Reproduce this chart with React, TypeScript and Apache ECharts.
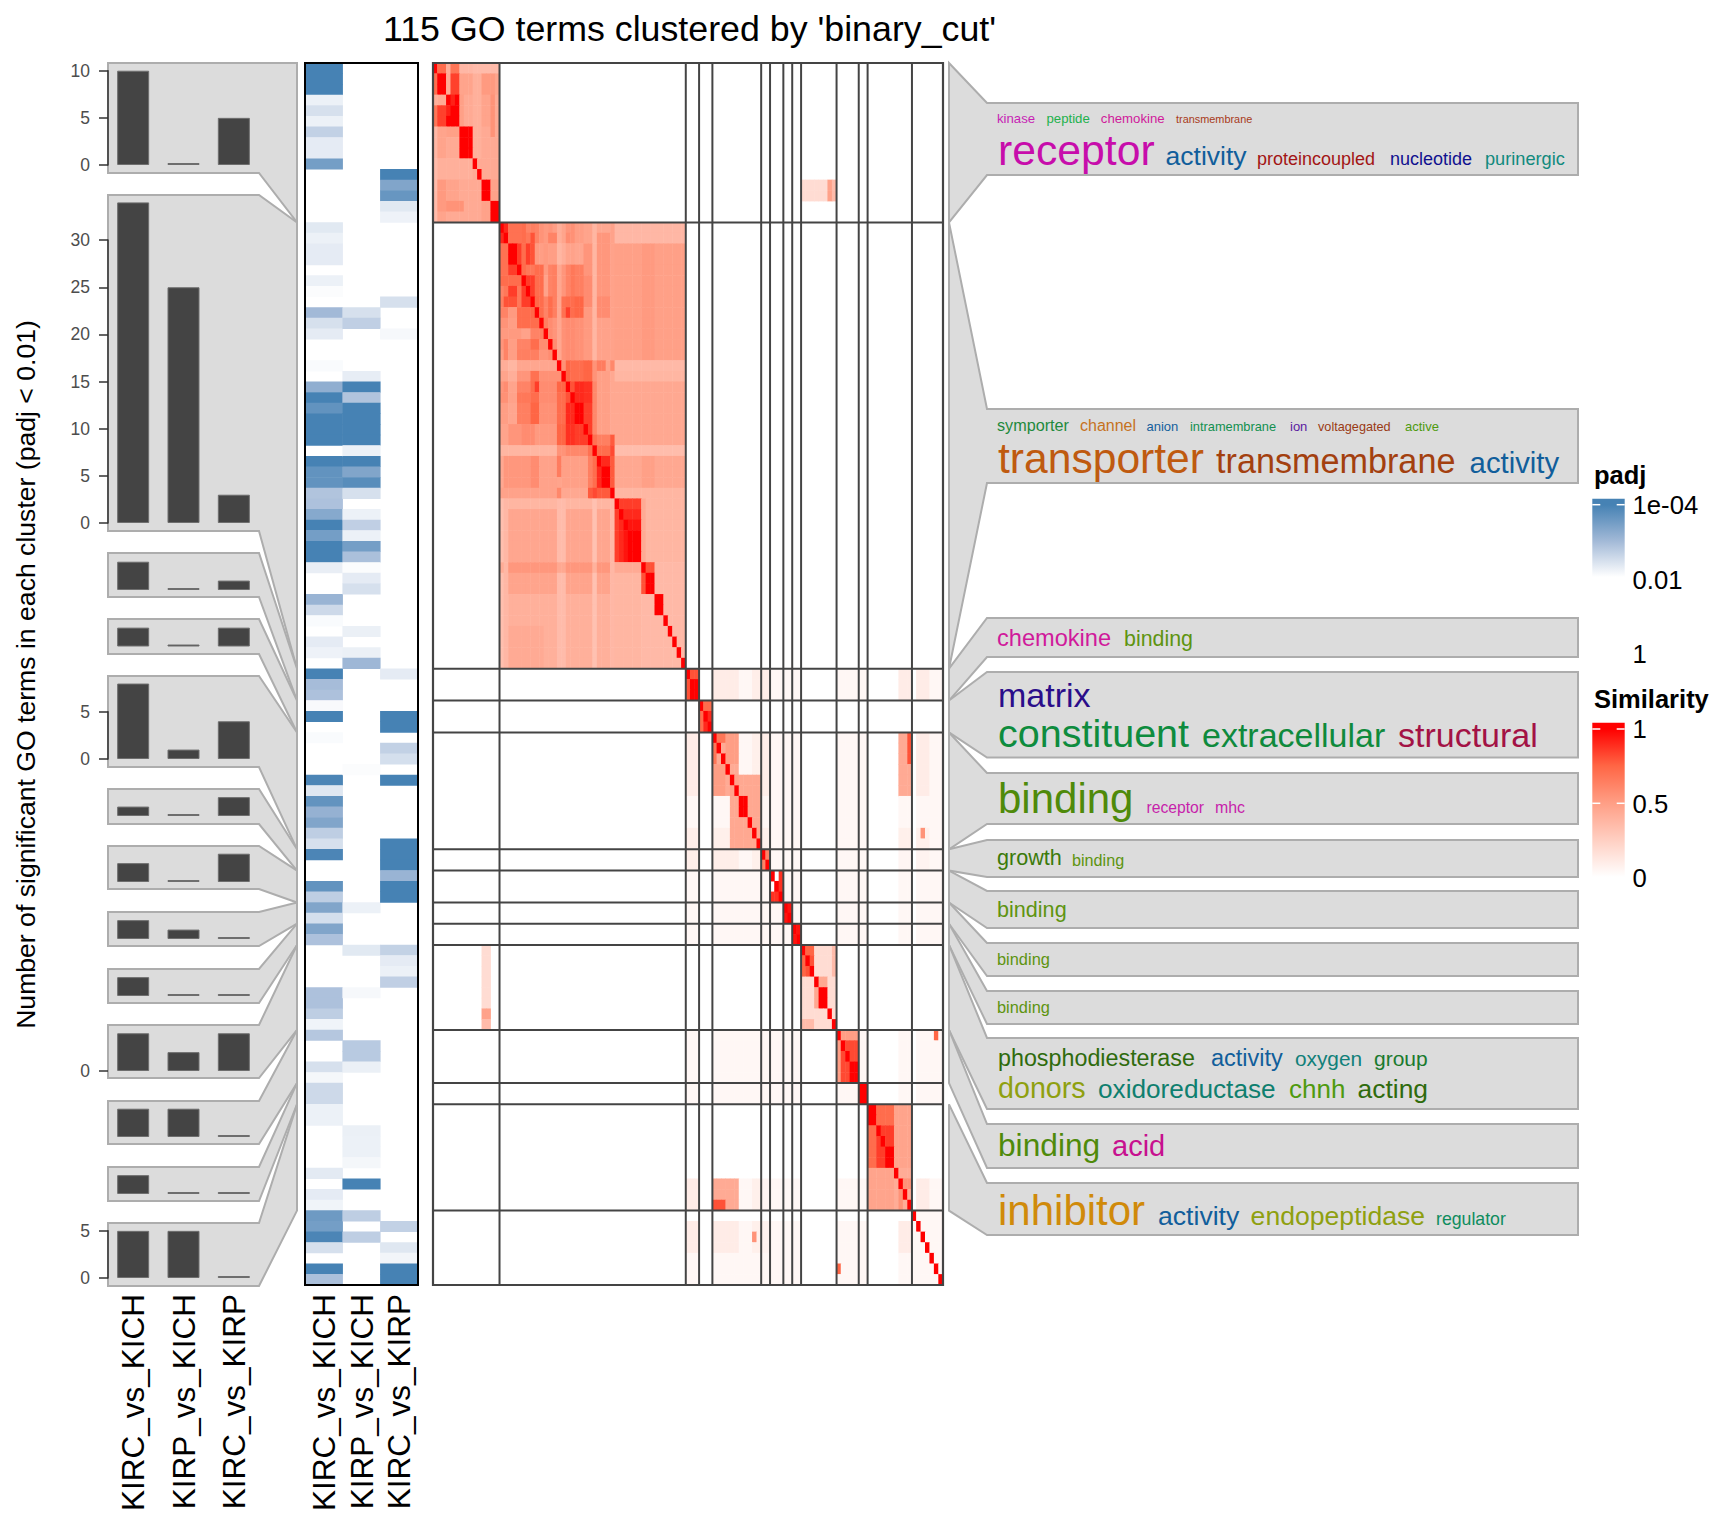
import React, { useEffect, useRef } from "react";
import * as echarts from "echarts";

const FONT = '"Liberation Sans", Arial, sans-serif';

// ---- data ----
const comparisons = ["KIRC_vs_KICH", "KIRP_vs_KICH", "KIRC_vs_KIRP"];
const clusterSizes = [15, 42, 3, 3, 11, 2, 3, 2, 2, 8, 5, 2, 10, 7];

const barKircKich = [10, 34, 3, 2, 8, 1, 2, 2, 2, 4, 3, 2, 5];
const barKirpKich = [0, 25, 0, 0, 1, 0, 0, 1, 0, 2, 3, 0, 5];
const barKircKirp = [5, 3, 1, 2, 4, 2, 3, 0, 0, 4, 0, 0, 0];
// highest labelled tick per panel (null: no axis drawn)
const axisTopTick = [10, 30, null, null, 5, null, null, null, null, 0, null, null, 5];

// -log10(padj); 0 = not significant
const logPadjKircKich = [
  4, 4, 4, 2.2, 2.44, 2.2, 2.66, 2.28, 2.28, 3.5,
  0, 0, 0, 0, 0, 2.32, 2.2, 2.28, 2.28, 0,
  2.2, 2.04, 0, 3, 2.44, 2.28, 0, 0, 2.06, 0,
  3.2, 4, 3.7, 4, 4, 4, 0, 4, 3.7, 3.7,
  2.84, 2.88, 3.3, 4, 3.5, 4, 4, 2.24, 0, 0,
  3.1, 2.54, 2.06, 0, 2.28, 2.18, 0, 4, 2.96, 2.88,
  2.08, 4, 0, 2.06, 0, 0, 0, 3.94, 2.34, 3.7,
  3.14, 3.36, 2.7, 2.44, 3.94, 0, 0, 3.7, 2.7, 3.36,
  2.46, 3.36, 2.88, 0, 0, 0, 0, 2.88, 2.88, 2.7,
  2.16, 2.8, 0, 0, 2.44, 2.12, 2.54, 2.54, 2.2, 2.2,
  0, 0, 0, 0, 2.3, 0, 2.28, 2.16, 3.56, 3.5,
  3.94, 2.44, 0, 4, 2.9,
];
const logPadjKirpKich = [
  0, 0, 0, 0, 0, 0, 0, 0, 0, 0,
  0, 0, 0, 0, 0, 0, 0, 0, 0, 0,
  0, 0, 0, 2.44, 2.68, 0, 0, 0, 0, 2.26,
  4, 2.84, 4, 4, 4, 4, 2.2, 4, 3.36, 3.8,
  2.44, 0, 2.2, 2.68, 2.2, 3.5, 2.9, 2.04, 2.28, 2.44,
  0, 0, 0, 2.22, 0, 2.22, 3.04, 0, 0, 0,
  0, 0, 0, 0, 0, 0, 2.04, 0, 0, 0,
  0, 0, 0, 0, 0, 0, 0, 0, 0, 2.2,
  0, 0, 0, 2.32, 0, 0, 0, 2.1, 0, 0,
  0, 0, 2.76, 2.76, 2.22, 0, 0, 0, 0, 0,
  2.22, 2.2, 2.2, 2.12, 0, 4, 0, 0, 2.7, 0,
  2.7, 0, 0, 0, 0,
];
const logPadjKircKirp = [
  0, 0, 0, 0, 0, 0, 0, 0, 0, 0,
  4, 3.36, 3.64, 2.32, 2.18, 0, 0, 0, 0, 0,
  0, 0, 2.44, 0, 0, 2.1, 0, 0, 0, 0,
  0, 0, 0, 0, 0, 0, 0, 0, 0, 0,
  0, 0, 0, 0, 0, 0, 0, 0, 0, 0,
  0, 0, 0, 0, 0, 0, 0, 2.28, 0, 0,
  0, 4, 4, 0, 2.66, 2.46, 0, 4, 0, 0,
  0, 0, 0, 4, 4, 4, 3.1, 4, 4, 0,
  0, 0, 0, 2.64, 2.28, 2.2, 2.68, 0, 0, 0,
  0, 0, 0, 0, 0, 0, 0, 0, 0, 0,
  0, 0, 0, 0, 0, 0, 0, 0, 0, 2.66,
  0, 2.34, 2.14, 4, 4,
];

// similarity blocks, term index ranges: [row0, row1, col0, col1, similarity]; mirrored across the diagonal
type Block = [number, number, number, number, number];
const receptorBlocks: Block[] = [
  [0, 14, 0, 14, 0.44], [0, 0, 1, 2, 0.72], [3, 3, 0, 0, 0.42], [0, 0, 4, 5, 0.68], [0, 0, 6, 8, 0.42], [0, 0, 9, 10, 0.4], [0, 0, 14, 14, 0.38],
  [1, 2, 3, 3, 0.44], [1, 2, 4, 5, 0.84], [1, 2, 6, 8, 0.47], [1, 2, 11, 14, 0.52], [1, 2, 1, 2, 1],
  [3, 5, 3, 5, 1], [4, 4, 3, 4, 0.92], [6, 6, 3, 5, 0.49], [6, 8, 6, 8, 1],
  [6, 8, 0, 0, 0.37], [9, 14, 0, 0, 0.35], [9, 10, 1, 8, 0.41], [11, 12, 3, 5, 0.47], [11, 12, 13, 14, 0.48],
  [13, 13, 3, 6, 0.55], [14, 14, 1, 2, 0.47], [11, 12, 11, 12, 1], [13, 14, 13, 14, 1],
];
const transporterBlocks: Block[] = [
  [15, 56, 15, 56, 0.44],
  [41, 41, 15, 40, 0.38], [42, 46, 15, 40, 0.46], [47, 47, 15, 40, 0.53], [48, 49, 15, 40, 0.47], [50, 56, 15, 40, 0.41], [53, 56, 17, 24, 0.44],
  [41, 56, 15, 15, 0.33], [41, 56, 16, 16, 0.37], [41, 56, 28, 29, 0.35], [41, 56, 36, 36, 0.32], [41, 56, 40, 40, 0.37],
  [47, 47, 15, 15, 0.43], [47, 47, 28, 29, 0.45], [47, 47, 36, 36, 0.4],
  [41, 56, 41, 56, 0.36], [47, 47, 41, 46, 0.44], [48, 56, 41, 46, 0.38],
  [41, 46, 41, 46, 0.85], [42, 46, 42, 46, 0.9], [43, 46, 43, 46, 0.95], [44, 46, 44, 46, 1],
  [47, 49, 47, 49, 0.8], [48, 49, 48, 49, 1], [50, 51, 50, 51, 1],
  [15, 40, 15, 40, 0.52],
  [16, 16, 15, 15, 0.9], [17, 19, 15, 16, 0.7], [17, 18, 17, 18, 1], [19, 19, 17, 18, 0.85],
  [20, 20, 15, 19, 0.72], [21, 21, 15, 15, 0.62], [21, 21, 16, 16, 0.67], [21, 21, 17, 18, 0.85], [21, 21, 19, 19, 0.67], [21, 21, 20, 20, 0.85],
  [22, 22, 15, 15, 0.64], [22, 22, 16, 18, 0.8], [22, 22, 19, 19, 0.67], [22, 22, 20, 21, 0.85],
  [23, 23, 15, 16, 0.62], [23, 23, 17, 18, 0.52], [23, 23, 19, 21, 0.72], [23, 23, 22, 22, 0.74],
  [24, 24, 15, 16, 0.55], [24, 24, 17, 18, 0.5], [24, 24, 19, 23, 0.72],
  [25, 25, 15, 19, 0.52], [25, 25, 20, 21, 0.48], [25, 25, 22, 23, 0.62], [25, 25, 24, 24, 0.64],
  [26, 26, 15, 15, 0.54], [26, 26, 16, 16, 0.62], [26, 26, 17, 18, 0.5], [26, 26, 19, 21, 0.62], [26, 26, 22, 23, 0.72], [26, 26, 24, 25, 0.58],
  [27, 27, 15, 15, 0.5], [27, 27, 16, 16, 0.62], [27, 27, 17, 18, 0.5], [27, 27, 19, 23, 0.64], [27, 27, 24, 25, 0.54], [27, 27, 26, 26, 0.58],
  [28, 28, 15, 16, 0.42], [28, 28, 17, 18, 0.38], [28, 28, 19, 27, 0.46],
  [29, 29, 15, 16, 0.47], [29, 29, 17, 18, 0.42], [29, 29, 19, 21, 0.54], [29, 29, 22, 23, 0.7], [29, 29, 24, 28, 0.56],
  [30, 30, 15, 15, 0.54], [30, 30, 16, 16, 0.58], [30, 30, 17, 18, 0.47], [30, 30, 19, 21, 0.62], [30, 30, 22, 22, 0.72], [30, 30, 23, 23, 0.85], [30, 30, 24, 27, 0.58], [30, 30, 28, 29, 0.75],
  [31, 31, 15, 16, 0.56], [31, 31, 17, 18, 0.48], [31, 31, 19, 21, 0.67], [31, 31, 22, 23, 0.72], [31, 31, 24, 27, 0.58], [31, 31, 28, 29, 0.72], [31, 31, 30, 30, 0.8],
  [32, 33, 15, 16, 0.5], [32, 33, 17, 18, 0.46], [32, 33, 19, 21, 0.64], [32, 33, 22, 23, 0.75], [32, 33, 24, 27, 0.56], [32, 33, 28, 29, 0.72], [32, 33, 30, 31, 0.9], [32, 33, 32, 33, 1],
  [34, 35, 15, 16, 0.47], [34, 35, 17, 19, 0.54], [34, 35, 20, 22, 0.58], [34, 35, 23, 27, 0.52], [34, 35, 28, 29, 0.75], [34, 35, 30, 31, 0.88], [34, 35, 32, 33, 0.85], [35, 35, 34, 34, 0.85],
  [36, 36, 15, 27, 0.38], [36, 36, 28, 29, 0.55], [36, 36, 30, 34, 0.6], [36, 36, 35, 35, 0.7],
  [37, 39, 15, 15, 0.45], [37, 39, 16, 21, 0.53], [37, 39, 22, 23, 0.58], [37, 39, 24, 27, 0.48], [37, 38, 28, 28, 0.65], [39, 39, 28, 28, 0.47], [37, 39, 29, 34, 0.49], [37, 39, 35, 35, 0.64], [37, 39, 36, 36, 0.72],
  [38, 38, 37, 37, 0.9], [39, 39, 37, 37, 0.9], [38, 39, 38, 39, 1],
  [40, 40, 15, 27, 0.48], [40, 40, 28, 28, 0.6], [40, 40, 29, 34, 0.45], [40, 40, 35, 35, 0.78], [40, 40, 36, 36, 0.82], [40, 40, 37, 39, 0.78],
];
// read from the upper right of the transporter block only; not mirrored
const transporterUpperRight: Block[] = [
  [15, 16, 41, 56, 0.37], [17, 27, 41, 56, 0.49], [28, 28, 41, 56, 0.36], [29, 29, 41, 56, 0.38], [30, 35, 41, 56, 0.45],
  [36, 36, 41, 56, 0.34], [37, 39, 41, 56, 0.45], [40, 40, 41, 56, 0.38],
  [17, 27, 47, 49, 0.52], [37, 39, 47, 49, 0.49],
];
const otherBlocks: Block[] = [
  [63, 82, 57, 59, 0.04], [91, 97, 57, 59, 0.04], [105, 114, 57, 59, 0.04], [63, 82, 63, 82, 0.04],
  [91, 97, 63, 82, 0.04], [105, 114, 63, 82, 0.04], [91, 97, 91, 97, 0.04], [105, 114, 91, 97, 0.04], [105, 114, 105, 114, 0.04],
  [108, 108, 57, 107, 0],
  [63, 68, 57, 59, 0.1], [72, 75, 57, 59, 0.09], [105, 107, 57, 59, 0.1], [109, 111, 57, 59, 0.1],
  [72, 73, 63, 68, 0.08], [74, 75, 63, 68, 0.09], [74, 75, 72, 73, 0.08],
  [109, 111, 63, 68, 0.1], [109, 111, 72, 73, 0.08], [109, 111, 74, 75, 0.06], [105, 107, 74, 75, 0.05], [105, 107, 72, 73, 0.08],
  [105, 107, 63, 68, 0.44], [107, 107, 63, 65, 0.8], [109, 111, 105, 107, 0.1], [110, 110, 72, 72, 0.55],
  [57, 59, 57, 59, 0.8], [58, 59, 58, 59, 1], [60, 62, 60, 62, 0.72], [61, 62, 61, 62, 0.9],
  [63, 68, 63, 68, 0.44], [64, 65, 63, 63, 0.68], [66, 68, 63, 65, 0.5],
  [69, 73, 67, 68, 0.45], [69, 73, 69, 73, 0.45], [67, 68, 67, 68, 0.48], [69, 70, 69, 70, 1],
  [74, 75, 74, 75, 0.62],
  [76, 78, 76, 78, 0.85], [77, 77, 76, 76, 0], [78, 78, 76, 77, 0.88],
  [79, 80, 79, 80, 0.95], [81, 82, 81, 82, 0.95],
  [83, 90, 83, 90, 0.18], [84, 85, 83, 83, 0.75], [85, 85, 84, 84, 0.8], [87, 88, 86, 86, 0.45], [87, 88, 87, 88, 1], [90, 90, 83, 85, 0.35],
  [83, 88, 11, 12, 0.18], [89, 89, 11, 12, 0.48], [90, 90, 11, 12, 0.35],
  [91, 95, 91, 95, 0.82], [92, 95, 91, 91, 0.5], [94, 95, 94, 95, 1], [113, 113, 91, 91, 0.75],
  [96, 97, 96, 97, 1],
  [98, 103, 98, 103, 0.72], [98, 99, 98, 99, 1], [100, 103, 100, 103, 0.85], [102, 103, 102, 103, 1],
  [104, 107, 98, 103, 0.47], [104, 107, 104, 107, 0.43], [106, 107, 105, 105, 0.55],
];

// word clouds: [word, x, baseline, font px, colour]
type Word = [string, number, number, number, string];
const cloudWords: Word[] = [
  ["kinase", 997, 123, 13.2, "#C71FB5"], ["peptide", 1046.5, 123, 13.2, "#22B14C"], ["chemokine", 1100.8, 123, 13.2, "#D01A9B"], ["transmembrane", 1176, 123, 10.9, "#A83A1A"],
  ["receptor", 998, 165, 42.7, "#C70DAB"], ["activity", 1165.6, 165, 26.5, "#115E9B"], ["proteincoupled", 1257, 165, 18, "#A31515"], ["nucleotide", 1390, 165, 18, "#10108F"], ["purinergic", 1485, 165, 18.2, "#118A7E"],
  ["symporter", 997, 431, 16.2, "#1F8A3C"], ["channel", 1080, 431, 16, "#C6721E"], ["anion", 1146.5, 431, 13, "#14609C"], ["intramembrane", 1190, 431, 12.8, "#12904F"], ["ion", 1290, 431, 13, "#5A1AA0"], ["voltagegated", 1318, 431, 12.7, "#9A3A14"], ["active", 1405, 431, 13, "#4E9A0F"],
  ["transporter", 998, 473, 42.6, "#BF5A10"], ["transmembrane", 1216, 472.5, 34.2, "#A3400F"], ["activity", 1469.6, 472.5, 29.3, "#115E9B"],
  ["chemokine", 997, 646, 23.6, "#D01A9B"], ["binding", 1124, 646, 21.4, "#5E9410"],
  ["matrix", 998, 706.6, 34, "#2A0D8A"], ["constituent", 998, 747, 39.5, "#0E8C3E"], ["extracellular", 1202, 747, 34, "#0F8A3C"], ["structural", 1398, 747, 34, "#A31245"],
  ["binding", 998, 813.5, 42, "#4F8A0A"], ["receptor", 1146.5, 813.3, 15.7, "#C71FAB"], ["mhc", 1215, 813.3, 15.9, "#C71FAB"],
  ["growth", 997, 865, 21.6, "#3B7A0A"], ["binding", 1072, 865.4, 16.2, "#5E9410"],
  ["binding", 997, 916.7, 21.6, "#5E9410"], ["binding", 997, 965, 16.4, "#5E9410"], ["binding", 997, 1012.7, 16.4, "#5E9410"],
  ["phosphodiesterase", 998, 1066, 23.3, "#2F6B0D"], ["activity", 1211, 1066, 23.5, "#115E9B"], ["oxygen", 1295, 1066, 20.8, "#11807A"], ["group", 1374, 1066, 21, "#1A7A2E"],
  ["donors", 998, 1097.7, 28.7, "#8FA010"], ["oxidoreductase", 1098, 1097.7, 26.2, "#0F7F6F"], ["chnh", 1289, 1097.7, 26, "#4F9A0F"], ["acting", 1357.6, 1097.7, 26.4, "#2F6B0D"],
  ["binding", 998, 1156, 31.7, "#4F8A0A"], ["acid", 1112, 1156, 29, "#C7108F"],
  ["inhibitor", 998, 1225, 42, "#D08A0A"], ["activity", 1158, 1225.5, 26.6, "#115E9B"], ["endopeptidase", 1250.6, 1225.5, 26.6, "#8FA010"], ["regulator", 1436, 1225.5, 17.7, "#0E8C5E"],
];

// ---- layout ----
const TERMS = 115;
const MAIN = { left: 433, top: 63, width: 510, height: 1222 };
const PADJ = { left: 305, top: 63, width: 113, height: 1222 };
const rowH = MAIN.height / TERMS;
const colW = MAIN.width / TERMS;
const Y_SCALE = 9.43;
const zeroY = [165, 523, 590, 646.5, 759, 816, 882, 939, 996, 1071, 1137, 1194, 1278];
const leftBoxTop = [63, 195, 553, 619, 676, 789, 846, 912, 969, 1025, 1101, 1167, 1223];
const leftBoxBottom = [173, 531, 597, 654, 767, 824, 889, 946, 1003, 1078, 1144, 1201, 1286];
const rightClusters = [0, 1, 2, 3, 4, 5, 6, 7, 8, 9, 10, 12];
const rightBoxTop = [103, 409, 618, 672, 773, 840, 891, 943, 991, 1038, 1124, 1183];
const rightBoxBottom = [175, 483, 657, 757.5, 824, 877, 928, 976, 1024, 1109, 1168, 1235];
const BOX_FILL = "#DCDCDC";
const BOX_STROKE = "#ADADAD";
const LINE_DARK = "#444444";

function buildSimilarity(): number[][] {
  const m: number[][] = Array.from({ length: TERMS }, () => new Array(TERMS).fill(0));
  for (const [r0, r1, c0, c1, v] of [...receptorBlocks, ...transporterBlocks, ...otherBlocks]) {
    for (let r = r0; r <= r1; r++) for (let c = c0; c <= c1; c++) { m[r][c] = v; m[c][r] = v; }
  }
  for (const [r0, r1, c0, c1, v] of transporterUpperRight) {
    for (let r = r0; r <= r1; r++) for (let c = c0; c <= c1; c++) m[r][c] = v;
  }
  for (let i = 0; i < TERMS; i++) m[i][i] = 1;
  return m;
}

const cum: number[] = [0];
clusterSizes.forEach((s, i) => cum.push(cum[i] + s));
const anchorY = (termIndex: number) => MAIN.top + termIndex * rowH;

function word(text: string, x: number, baseline: number, size: number, fill: string, extra: any = {}) {
  return {
    type: "text", x, y: baseline - 0.346 * size, z: 10, silent: true,
    style: { text, fontSize: size, fontFamily: FONT, fill, textVerticalAlign: "middle", verticalAlign: "middle", textAlign: "left", align: "left", ...extra },
  };
}

function buildOption() {
  const grids: any[] = [];
  const xAxes: any[] = [];
  const yAxes: any[] = [];
  const series: any[] = [];
  const graphics: any[] = [];

  zeroY.forEach((y0, i) => {
    const vals = [barKircKich[i], barKirpKich[i], barKircKirp[i]];
    const tick = axisTopTick[i];
    const top = tick && tick > 0 ? tick : Math.max(...vals);
    const h = top * Y_SCALE;
    grids.push({ left: 108, width: 151, top: y0 - h, height: h });
    const isLast = i === zeroY.length - 1;
    xAxes.push({
      type: "category", gridIndex: i, data: comparisons, show: isLast,
      axisLine: { show: false }, axisTick: { show: false },
      axisLabel: { show: isLast, rotate: 90, interval: 0, margin: 16, fontSize: 31.5, color: "#000", fontFamily: FONT },
    });
    const axisShown = tick !== null;
    const zeroOnly = tick === 0;
    yAxes.push({
      type: "value", gridIndex: i, min: 0, max: top, interval: 5, show: axisShown, splitLine: { show: false },
      axisLine: { show: axisShown && !zeroOnly, lineStyle: { color: "#333", width: 1.5 } },
      axisTick: { show: axisShown, length: 9, lineStyle: { color: "#333", width: 1.5 }, ...(zeroOnly ? { customValues: [0] } : {}) },
      axisLabel: { show: axisShown, fontSize: 17.5, color: "#4D4D4D", fontFamily: FONT, margin: 18, ...(zeroOnly ? { customValues: [0] } : {}) },
    });
    series.push({
      type: "bar", xAxisIndex: i, yAxisIndex: i, data: vals, barWidth: 32, barMinHeight: 2, clip: false, silent: true, z: 3,
      itemStyle: { color: "#444444", borderColor: "#6E6E6E", borderWidth: 1 },
    });
    const a0 = anchorY(cum[i]);
    const a1 = anchorY(cum[i + 1]);
    graphics.push({
      type: "polygon", z: -1, silent: true,
      shape: { points: [[108, leftBoxTop[i]], [259, leftBoxTop[i]], [297, a0], [297, a1], [259, leftBoxBottom[i]], [108, leftBoxBottom[i]]] },
      style: { fill: BOX_FILL, stroke: BOX_STROKE, lineWidth: 2, lineJoin: "miter" },
    });
  });

  // padj heatmap
  const padjIdx = grids.length;
  grids.push({ ...PADJ });
  const idx = Array.from({ length: TERMS }, (_, i) => String(i));
  xAxes.push({
    type: "category", gridIndex: padjIdx, data: comparisons, position: "bottom",
    axisLine: { show: false }, axisTick: { show: false }, splitLine: { show: false },
    axisLabel: { rotate: 90, interval: 0, margin: 9, fontSize: 31.5, color: "#000", fontFamily: FONT },
  });
  yAxes.push({ type: "category", gridIndex: padjIdx, data: idx, inverse: true, show: false });
  const padjData: any[] = [];
  [logPadjKircKich, logPadjKirpKich, logPadjKircKirp].forEach((col, c) => {
    col.forEach((v, r) => { if (v > 2) padjData.push([c, r, v]); });
  });
  series.push({ type: "heatmap", xAxisIndex: padjIdx, yAxisIndex: padjIdx, data: padjData, silent: true, progressive: 0, z: 3 });

  // similarity heatmap
  const simIdx = grids.length;
  grids.push({ ...MAIN });
  xAxes.push({ type: "category", gridIndex: simIdx, data: idx, show: false });
  yAxes.push({ type: "category", gridIndex: simIdx, data: idx, inverse: true, show: false });
  const sim = buildSimilarity();
  const simData: any[] = [];
  sim.forEach((row, r) => row.forEach((v, c) => { if (v > 0) simData.push([c, r, v]); }));
  series.push({ type: "heatmap", xAxisIndex: simIdx, yAxisIndex: simIdx, data: simData, silent: true, progressive: 0, z: 3 });

  // right word-cloud boxes
  rightClusters.forEach((cl, i) => {
    graphics.push({
      type: "polygon", z: -1, silent: true,
      shape: { points: [[949, anchorY(cum[cl])], [987, rightBoxTop[i]], [1578, rightBoxTop[i]], [1578, rightBoxBottom[i]], [987, rightBoxBottom[i]], [949, anchorY(cum[cl + 1])]] },
      style: { fill: BOX_FILL, stroke: BOX_STROKE, lineWidth: 2, lineJoin: "miter" },
    });
  });
  cloudWords.forEach(([t, x, b, s, c]) => graphics.push(word(t, x, b, s, c)));

  // cluster separators on the similarity heatmap
  cum.slice(1, -1).forEach((n) => {
    const x = MAIN.left + n * colW;
    const y = MAIN.top + n * rowH;
    graphics.push({ type: "line", z: 9, silent: true, shape: { x1: x, y1: MAIN.top, x2: x, y2: MAIN.top + MAIN.height }, style: { stroke: LINE_DARK, lineWidth: 2 } });
    graphics.push({ type: "line", z: 9, silent: true, shape: { x1: MAIN.left, y1: y, x2: MAIN.left + MAIN.width, y2: y }, style: { stroke: LINE_DARK, lineWidth: 2 } });
  });
  graphics.push({ type: "rect", z: 9, silent: true, shape: { x: MAIN.left, y: MAIN.top, width: MAIN.width, height: MAIN.height }, style: { fill: "none", stroke: LINE_DARK, lineWidth: 2.2 } });
  graphics.push({ type: "rect", z: 9, silent: true, shape: { x: PADJ.left, y: PADJ.top, width: PADJ.width, height: PADJ.height }, style: { fill: "none", stroke: "#000", lineWidth: 2 } });

  // y title
  graphics.push({
    type: "text", x: 26, y: 674.5, rotation: Math.PI / 2, z: 10, silent: true,
    style: { text: "Number of significant GO terms in each cluster (padj < 0.01)", fontSize: 26.6, fontFamily: FONT, fill: "#000", align: "center", textAlign: "center", verticalAlign: "middle", textVerticalAlign: "middle" },
  });

  // legends
  const lx = 1592.3, lw = 32.4;
  graphics.push({
    type: "rect", z: 5, silent: true, shape: { x: lx, y: 498.7, width: lw, height: 78.3 },
    style: { fill: new echarts.graphic.LinearGradient(0, 0, 0, 1, [
      { offset: 0, color: "#4682B4" }, { offset: 0.08, color: "#4682B4" }, { offset: 0.54, color: "#A2B9D7" }, { offset: 1, color: "#FFFFFF" },
    ]) },
  });
  graphics.push({
    type: "rect", z: 5, silent: true, shape: { x: lx, y: 722.7, width: lw, height: 154.3 },
    style: { fill: new echarts.graphic.LinearGradient(0, 0, 0, 1, [
      { offset: 0, color: "#FF0000" }, { offset: 0.04, color: "#FF0000" }, { offset: 0.28, color: "#FF6645" }, { offset: 0.52, color: "#FF9E85" }, { offset: 0.76, color: "#FFCFC2" }, { offset: 1, color: "#FFFFFF" },
    ]) },
  });
  [504.7, 729, 803.3].forEach((y) => {
    [[lx, lx + 8], [lx + lw - 8, lx + lw]].forEach(([a, b]) => {
      graphics.push({ type: "line", z: 6, silent: true, shape: { x1: a, y1: y, x2: b, y2: y }, style: { stroke: "#FFFFFF", lineWidth: 1.5 } });
    });
  });
  graphics.push(word("padj", 1594, 484, 25.5, "#000", { fontWeight: "bold" }));
  graphics.push(word("Similarity", 1594, 708, 25.5, "#000", { fontWeight: "bold" }));
  ([["1e-04", 514.3], ["0.01", 589.3], ["1", 663.3], ["1", 738.3], ["0.5", 812.7], ["0", 887.3]] as [string, number][]).forEach(([t, b]) => {
    graphics.push(word(t, 1632.5, b, 25.7, "#000"));
  });

  return {
    animation: false,
    backgroundColor: "#FFFFFF",
    title: {
      text: "115 GO terms clustered by 'binary_cut'", left: 378, top: 6,
      textStyle: { fontSize: 35.75, fontWeight: "normal", color: "#000", fontFamily: FONT },
    },
    grid: grids, xAxis: xAxes, yAxis: yAxes, series,
    visualMap: [
      { show: false, type: "continuous", seriesIndex: padjIdx, dimension: 2, min: 2, max: 4, inRange: { color: ["#FFFFFF", "#A2B9D7", "#4682B4"] } },
      { show: false, type: "continuous", seriesIndex: simIdx, dimension: 2, min: 0, max: 1, inRange: { color: ["#FFFFFF", "#FFCFC2", "#FF9E85", "#FF6645", "#FF0000"] } },
    ],
    graphic: { elements: graphics },
  };
}

export default function App() {
  const ref = useRef<HTMLDivElement>(null);
  useEffect(() => {
    if (!ref.current) return;
    const chart = echarts.init(ref.current, undefined, { renderer: "svg", width: 1728, height: 1536 });
    chart.setOption(buildOption() as any);
    return () => chart.dispose();
  }, []);
  return <div ref={ref} style={{ position: "absolute", left: 0, top: 0, width: 1728, height: 1536, background: "#fff" }} />;
}
